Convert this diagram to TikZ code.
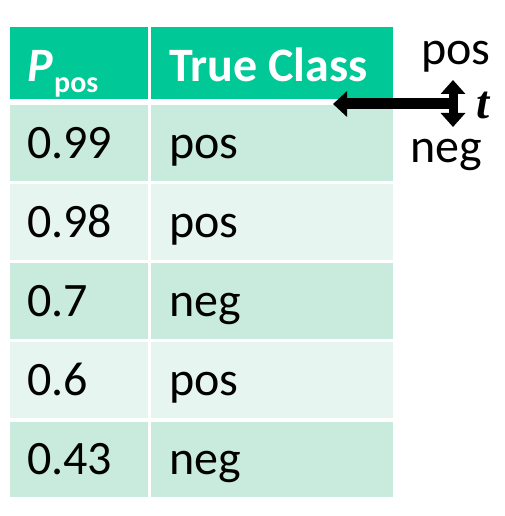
\documentclass[tikz,border=0pt]{standalone}
\usepackage{fontspec}
\setmainfont{Carlito}
\newfontfamily\tserif{Liberation Serif}
\usetikzlibrary{arrows.meta}
\definecolor{hdr}{RGB}{0,200,150}
\definecolor{rowdark}{RGB}{200,235,222}
\definecolor{rowlight}{RGB}{230,245,239}
\tikzset{
  cell/.style={rectangle, anchor=north west, inner sep=0pt, outer sep=0pt, draw=none},
  txt/.style={anchor=base west, inner sep=0pt, font=\fontsize{48}{56}\selectfont},
  hdrtxt/.style={anchor=base west, inner sep=0pt, text=white, font=\fontsize{48}{56}\selectfont\bfseries},
  bigarrow/.style={line width=11pt, -{Triangle[length=14pt,width=25pt]}},
  dblarrow/.style={line width=9pt, {Triangle[length=14pt,width=24pt]}-{Triangle[length=14pt,width=24pt]}},
}
\begin{document}
\begin{tikzpicture}[x=1pt,y=-1pt]
\useasboundingbox (0,0) rectangle (504,516);
% header
\node[cell, fill=hdr, minimum width=138pt, minimum height=72pt] (h1) at (10,27) {};
\node[cell, fill=hdr, minimum width=242pt, minimum height=72pt] (h2) at (151,27) {};
% rows
\foreach \i/\top/\h/\c in {1/105/76/rowdark,2/184/76/rowlight,3/263/76/rowdark,4/342/76/rowlight,5/422/75/rowdark}{
  \node[cell, fill=\c, minimum width=138pt, minimum height=\h pt] (a\i) at (10,\top) {};
  \node[cell, fill=\c, minimum width=242pt, minimum height=\h pt] (b\i) at (151,\top) {};
}
% header text
\node[hdrtxt, font=\fontsize{48}{56}\selectfont\bfseries\itshape] (ptxt) at (27,82) {P};
\node[hdrtxt, font=\fontsize{30}{36}\selectfont\bfseries] (psub) at (54,93) {pos};
\node[hdrtxt] (tc) at (169,82) {True Class};
% row text
\foreach \i/\p/\c in {1/0.99/pos,2/0.98/pos,3/0.7/neg,4/0.6/pos,5/0.43/neg}{
  \pgfmathsetmacro{\yb}{158+79*(\i-1)}
  \node[txt] (p\i) at (27,\yb) {\p};
  \node[txt] (c\i) at (169,\yb) {\c};
}
% threshold labels
\node[txt] (lpos) at (421,65) {pos};
\node[txt] (lneg) at (410,162) {neg};
\node[anchor=base west, inner sep=0pt, font=\fontsize{47}{54}\selectfont\tserif\bfseries\itshape] (lt) at (476,118) {t};
% arrows
\coordinate (vtop) at (453,80);
\coordinate (vbot) at (453,127);
\coordinate (vmid) at (453,104);
\coordinate (atip) at (333,104);
\draw[dblarrow] (vtop) -- (vbot);
\draw[bigarrow] (vmid) -- (atip);
\end{tikzpicture}
\end{document}
